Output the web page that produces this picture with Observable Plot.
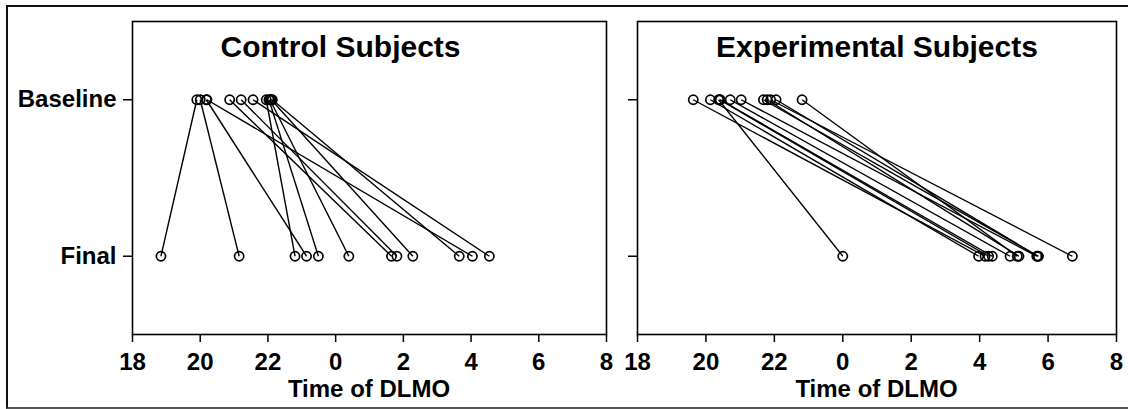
<!DOCTYPE html>
<html>
<head>
<meta charset="utf-8">
<script src="https://cdn.jsdelivr.net/npm/d3@7"></script>
<script src="https://cdn.jsdelivr.net/npm/@observablehq/plot@0.6"></script>
<style>
  html, body { margin: 0; padding: 0; background: #fff; }
  #wrap { position: relative; width: 1128px; height: 409px; overflow: hidden;
          font-family: "Liberation Sans", Arial, sans-serif; }
  #border { position: absolute; left: 6px; top: 5px; width: 1130px; height: 400px;
            border-left: 2px solid #111; border-top: 2px solid #111; border-bottom: 2px solid #555; }
  .xlabel { position: absolute; top: 376px; font-size: 24px; font-weight: bold; color: #000;
            transform: translateX(-50%); white-space: nowrap; line-height: 26px; }
  svg { position: absolute; top: 0; }
</style>
</head>
<body>
<div id="wrap">
  <div id="border"></div>
</div>
<script>
// ---- data (hours; values past midnight are written as 24 + clock hour) ----
const stageNames = ["Baseline", "Final"];
const timeTicks = [18, 20, 22, 24, 26, 28, 30, 32];

const controlBaseline = [19.90, 20.00, 20.18, 20.20, 20.87, 21.21, 21.56, 21.95, 22.03, 22.06, 22.10, 22.13];
const controlFinal    = [18.84, 21.15, 23.14, 28.04, 25.65, 25.81, 28.54, 22.80, 23.49, 24.39, 26.28, 27.65];

const expBaseline = [19.63, 20.13, 20.37, 20.40, 20.42, 20.71, 21.03, 21.68, 21.79, 21.89, 22.05, 22.81];
const expFinal    = [28.16, 27.97, 24.00, 28.26, 28.37, 28.89, 29.67, 29.72, 29.15, 30.71, 29.70, 29.10];

const panelTitles = ["Control Subjects", "Experimental Subjects"];
const axisTitle = "Time of DLMO";

// ---- helpers ----
function toRows(base, fin) {
  return base.map((b, i) => ({ b, f: fin[i] }));
}
function toPoints(base, fin) {
  const pts = [];
  base.forEach((b, i) => {
    pts.push({ t: b, s: 1 });
    pts.push({ t: fin[i], s: 2 });
  });
  return pts;
}

const wrap = document.getElementById("wrap");

function panel({ base, fin, title, titleDx, left, width, marginLeft, marginRight, showYLabels }) {
  const rows = toRows(base, fin);
  const pts = toPoints(base, fin);
  const svg = Plot.plot({
    width, height: 409,
    marginLeft, marginRight, marginTop: 21, marginBottom: 75,
    style: { fontFamily: "'Liberation Sans', Arial, sans-serif", fontSize: "24px", fontWeight: "bold", color: "#000", background: "transparent" },
    x: { domain: [18, 32] },
    y: { domain: [0.5, 2.5], reverse: true },
    marks: [
      Plot.axisX({ ticks: timeTicks, tickFormat: d => String(d % 24), tickSize: 8, tickPadding: 10, label: null, strokeWidth: 1.5 }),
      Plot.axisY({ ticks: [1, 2], tickFormat: showYLabels ? (d => stageNames[d - 1]) : (() => ""), tickSize: 9, tickPadding: 7, label: null, strokeWidth: 1.5 }),
      Plot.frame({ stroke: "#000", strokeWidth: 1.6 }),
      Plot.link(rows, { x1: "b", y1: () => 1, x2: "f", y2: () => 2, stroke: "#000", strokeWidth: 1.4 }),
      Plot.dot(pts, { x: "t", y: "s", r: 4.6, stroke: "#000", strokeWidth: 1.7, fill: "none" }),
      Plot.text([title], { frameAnchor: "top", text: d => d, dy: 26, dx: titleDx, fontSize: 30, fontWeight: "bold", lineAnchor: "middle", fill: "#000" })
    ]
  });
  svg.style.left = left + "px";
  wrap.appendChild(svg);
  const lab = document.createElement("div");
  lab.className = "xlabel";
  lab.textContent = axisTitle;
  lab.style.left = (left + marginLeft + (width - marginLeft - marginRight) / 2) + "px";
  wrap.appendChild(lab);
}

panel({ base: controlBaseline, fin: controlFinal, title: panelTitles[0], titleDx: -29,
        left: 0, width: 620, marginLeft: 132, marginRight: 14, showYLabels: true });
panel({ base: expBaseline, fin: expFinal, title: panelTitles[1], titleDx: 0,
        left: 620, width: 508, marginLeft: 17, marginRight: 12, showYLabels: false });
</script>
</body>
</html>
